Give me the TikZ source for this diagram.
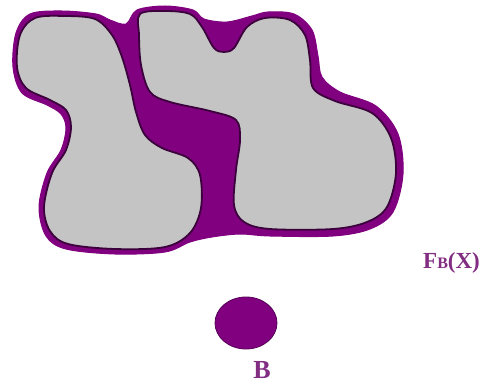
\documentclass[tikz,border=0pt]{standalone}
\usepackage{fontspec}
\setmainfont{Liberation Serif}
\usepackage{xcolor}
\usetikzlibrary{shapes.geometric,positioning}
\definecolor{closepurple}{RGB}{128,0,128}
\definecolor{edgepurple}{RGB}{60,0,60}
\definecolor{setgray}{RGB}{196,196,196}
\definecolor{labelpurple}{RGB}{130,45,130}
\tikzset{
    closing/.style={
        fill=closepurple,
        draw=closepurple,
        line width=1pt
    },
    setpart/.style={
        fill=setgray,
        draw=edgepurple,
        line width=1.8pt
    },
    structel/.style={
        ellipse,
        fill=closepurple,
        draw=edgepurple!60!closepurple,
        line width=0.8pt,
        minimum width=62pt,
        minimum height=52pt,
        inner sep=0pt
    },
    lbl/.style={
        text=labelpurple,
        font=\bfseries,
        inner sep=0pt
    }
}

\begin{document}
\begin{tikzpicture}[x=1pt,y=-1pt]
\useasboundingbox (0,0) rectangle (493,388);

% closing F_B(X)
\draw[closing] plot[smooth cycle, tension=0.55] coordinates {
    (30,14) (62,11) (96,14) (110,20) (126,24) (137,10) (165,6) (193,10)
    (204,19) (227,22) (252,16) (268,12) (294,14) (312,30) (318,56) (322,77)
    (340,92) (376,106) (398,134) (403,174) (393,212) (370,229) (333,236)
    (270,236) (240,234) (212,237) (190,242) (165,252) (115,254) (66,249)
    (46,236) (39,207) (47,173) (61,150) (66,128) (61,114) (47,105) (22,93)
    (13,67) (16,33)};

% set X, left part
\draw[setpart] plot[smooth cycle, tension=0.55] coordinates {
    (35,18) (65,16) (95,19) (112,35) (122,57) (130,85) (136,112) (145,135)
    (162,148) (188,158) (200,175) (201,208) (190,233) (165,247) (115,249)
    (68,244) (50,231) (44,207) (52,173) (66,150) (71,127) (66,110) (50,100)
    (26,88) (17,67) (20,35)};

% set X, right part
\draw[setpart] plot[smooth cycle, tension=0.55] coordinates {
    (140,14) (165,11) (190,14) (202,27) (214,48) (224,52) (234,48) (247,27)
    (265,18) (290,20) (305,35) (310,60) (313,88) (335,101) (372,113)
    (391,138) (396,173) (387,207) (367,222) (333,229) (270,229) (244,222)
    (234,205) (236,170) (240,140) (236,120) (210,111) (170,102) (150,92)
    (141,65) (139,35)};

% structuring element
\node[structel] (elB) at (246,323) {};
\node[lbl, font=\bfseries\fontsize{26}{26}\selectfont, below=12pt of elB, xshift=16pt] (lblB) {B};

\node[lbl, font=\bfseries\fontsize{23}{23}\selectfont, anchor=base west] (lblF) at (423,268)
    {F{\fontsize{16}{16}\selectfont B}(X)};
\end{tikzpicture}
\end{document}
